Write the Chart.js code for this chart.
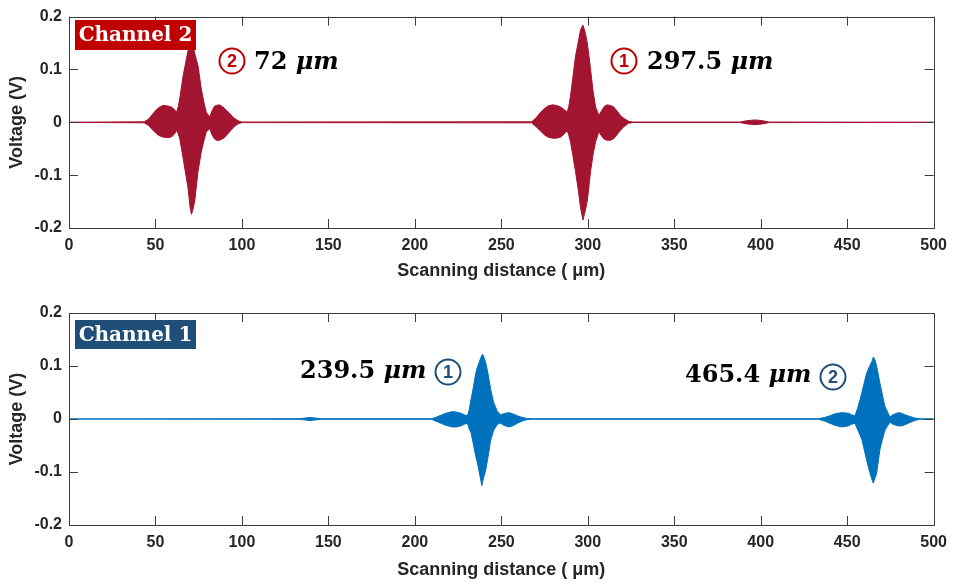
<!DOCTYPE html>
<html><head><meta charset="utf-8">
<script src="https://cdn.jsdelivr.net/npm/chart.js@4/dist/chart.umd.min.js"></script>
<style>
html,body{margin:0;padding:0;background:#fff;}
#wrap{position:relative;width:955px;height:584px;}
canvas{position:absolute;left:0;}
</style>
</head><body>
<div id="wrap">
<canvas id="c2" width="955" height="292" style="top:0px"></canvas>
<canvas id="c1" width="955" height="292" style="top:292px"></canvas>
</div>
<script>
// ---- data ----
const xTicks = [0, 50, 100, 150, 200, 250, 300, 350, 400, 450, 500];
const yTicks = [-0.2, -0.1, 0, 0.1, 0.2];

// Channel 2 (top, red): envelope of the interference signal
const ch2X = [0, 43.5, 46, 48, 50, 52, 54.4, 57, 59.2, 61, 62.2, 63.2, 64, 66, 68.8, 70, 70.8, 71.7, 72.7, 74.6, 76.5, 78, 79.4, 81.4, 82.5, 84, 85.2, 87, 89, 91, 92.9, 95, 97.7, 100,
  267.5, 270, 272.5, 275, 277, 279.5, 282, 284.3, 286.3, 288.1, 289, 290, 291.5, 292.9, 294.5, 295.8, 297.2, 298.5, 299.7, 300.7, 301.6, 303, 304.5, 306.4, 308, 309.5, 311.2, 313, 315, 317, 318.9, 321, 323.5, 326,
  388, 392, 396.8, 401, 405, 500];
const ch2Upper = [0, 0.001, 0.006, 0.014, 0.022, 0.028, 0.032, 0.031, 0.029, 0.024, 0.019, 0.030, 0.044, 0.088, 0.135, 0.148, 0.150, 0.145, 0.130, 0.107, 0.063, 0.038, 0.019, 0.010, 0.020, 0.030, 0.032, 0.033, 0.029, 0.023, 0.017, 0.009, 0.003, 0.0005,
  0.001, 0.008, 0.018, 0.026, 0.031, 0.033, 0.032, 0.029, 0.024, 0.019, 0.030, 0.050, 0.088, 0.125, 0.152, 0.175, 0.184, 0.170, 0.150, 0.125, 0.100, 0.060, 0.029, 0.013, 0.022, 0.030, 0.033, 0.032, 0.029, 0.021, 0.013, 0.007, 0.002, 0.0005,
  0.0005, 0.003, 0.0045, 0.003, 0.0005, 0];
const ch2Lower = [0, -0.001, -0.006, -0.013, -0.020, -0.025, -0.028, -0.029, -0.028, -0.022, -0.015, -0.022, -0.030, -0.068, -0.124, -0.160, -0.174, -0.165, -0.149, -0.093, -0.056, -0.035, -0.018, -0.012, -0.022, -0.031, -0.034, -0.034, -0.031, -0.025, -0.018, -0.010, -0.003, -0.0005,
  -0.001, -0.008, -0.016, -0.024, -0.028, -0.030, -0.030, -0.028, -0.022, -0.016, -0.024, -0.037, -0.065, -0.093, -0.128, -0.161, -0.185, -0.168, -0.149, -0.120, -0.093, -0.062, -0.037, -0.018, -0.026, -0.032, -0.034, -0.034, -0.031, -0.023, -0.015, -0.008, -0.002, -0.0005,
  -0.0005, -0.003, -0.0045, -0.003, -0.0005, 0];

// Channel 1 (bottom, blue)
const ch1X = [0, 133, 137, 139.5, 142, 146,
  209.5, 212, 215, 218, 221.8, 224, 226.6, 228.5, 230.4, 231.5, 232.4, 233.3, 235.2, 236.2, 238.1, 238.7, 239.2, 240, 241, 242.5, 243.9, 245.5, 247.7, 249.6, 251.5, 254.4, 256.5, 259.3, 262, 265, 268,
  433.3, 437, 440, 443, 446.8, 450.7, 452.5, 454.5, 456, 457.4, 458.5, 460, 461.2, 463, 464.5, 465.1, 466, 467, 468.9, 470.4, 471.8, 474.7, 476.5, 479.5, 481.4, 483.3, 486, 489, 492, 500];
const ch1Upper = [0, 0.0005, 0.002, 0.003, 0.002, 0.0005,
  0.0005, 0.003, 0.007, 0.011, 0.014, 0.013, 0.011, 0.008, 0.006, 0.018, 0.036, 0.050, 0.086, 0.098, 0.115, 0.120, 0.122, 0.116, 0.106, 0.082, 0.055, 0.032, 0.014, 0.008, 0.010, 0.012, 0.010, 0.006, 0.003, 0.001, 0.0005,
  0.0005, 0.003, 0.006, 0.010, 0.012, 0.011, 0.008, 0.006, 0.020, 0.036, 0.050, 0.070, 0.086, 0.100, 0.110, 0.117, 0.112, 0.100, 0.068, 0.045, 0.024, 0.004, 0.008, 0.012, 0.011, 0.008, 0.005, 0.002, 0.0005, 0];
const ch1Lower = [0, -0.0005, -0.002, -0.003, -0.002, -0.0005,
  -0.0005, -0.004, -0.008, -0.012, -0.015, -0.015, -0.013, -0.010, -0.008, -0.020, -0.025, -0.039, -0.070, -0.083, -0.115, -0.126, -0.118, -0.108, -0.096, -0.068, -0.039, -0.022, -0.010, -0.008, -0.012, -0.015, -0.013, -0.008, -0.004, -0.001, -0.0005,
  -0.0005, -0.004, -0.008, -0.012, -0.015, -0.013, -0.010, -0.008, -0.020, -0.030, -0.039, -0.060, -0.077, -0.100, -0.116, -0.121, -0.112, -0.103, -0.058, -0.038, -0.021, -0.006, -0.010, -0.013, -0.013, -0.011, -0.007, -0.003, -0.0005, 0];

// ---- drawing ----
const AX = '#262626';
function pts(xs, ys) { return xs.map((x, i) => ({ x: x, y: ys[i] })); }

function drawPeakLabel(ctx, numText, x, baseline, circle, circleColor) {
  ctx.save();
  const numFont = 'bold 24px "DejaVu Serif"';
  const unitFont = 'italic bold 24px "DejaVu Serif"';
  ctx.textBaseline = 'alphabetic';
  ctx.textAlign = 'left';
  ctx.font = numFont;
  const w1 = ctx.measureText(numText + ' ').width;
  ctx.fillStyle = '#000';
  ctx.fillText(numText + ' ', x, baseline);
  ctx.font = unitFont; ctx.fillText('μm', x + w1, baseline);
  // circled index
  ctx.strokeStyle = circleColor; ctx.lineWidth = 2;
  ctx.beginPath(); ctx.arc(circle.x, circle.y, 12.5, 0, Math.PI * 2); ctx.stroke();
  ctx.fillStyle = circleColor; ctx.font = 'bold 18px "Liberation Sans"';
  ctx.textAlign = 'center'; ctx.textBaseline = 'middle';
  ctx.fillText(circle.t, circle.x, circle.y + 1);
  ctx.restore();
}

function makeChart(id, xs, up, lo, color, cfg) {
  const framePlugin = {
    id: 'frame' + id,
    afterDraw(chart) {
      const { ctx, chartArea: a, scales: { x, y } } = chart;
      ctx.save();
      ctx.strokeStyle = '#3c3c3c'; ctx.lineWidth = 1;
      ctx.beginPath();
      for (const v of xTicks) {
        const px = Math.round(x.getPixelForValue(v)) + 0.5;
        ctx.moveTo(px, a.bottom); ctx.lineTo(px, a.bottom - 9);
        ctx.moveTo(px, a.top); ctx.lineTo(px, a.top + 9);
      }
      for (const v of yTicks) {
        const py = Math.round(y.getPixelForValue(v)) + 0.5;
        ctx.moveTo(a.left, py); ctx.lineTo(a.left + 9, py);
        ctx.moveTo(a.right, py); ctx.lineTo(a.right - 9, py);
      }
      ctx.stroke();
      ctx.strokeRect(Math.round(a.left) + 0.5, Math.round(a.top) + 0.5, Math.round(a.right - a.left), Math.round(a.bottom - a.top));
      // channel box
      ctx.fillStyle = cfg.boxColor;
      ctx.fillRect(cfg.box.x, cfg.box.y, cfg.box.w, cfg.box.h);
      ctx.fillStyle = '#fff';
      ctx.font = 'bold 20px "DejaVu Serif"';
      ctx.textAlign = 'center'; ctx.textBaseline = 'middle';
      ctx.fillText(cfg.boxText, cfg.box.x + cfg.box.w / 2, cfg.box.y + cfg.box.h / 2 + 1);
      ctx.restore();
      for (const p of cfg.peaks) drawPeakLabel(ctx, p.text, p.x, p.base, p.circle, cfg.circleColor);
    }
  };
  return new Chart(document.getElementById(id), {
    type: 'line',
    data: {
      datasets: [
        { data: pts(xs, up), borderColor: color, backgroundColor: color, borderWidth: 1, fill: '+1', pointRadius: 0, tension: 0 },
        { data: pts(xs, lo), borderColor: color, backgroundColor: color, borderWidth: 1, fill: false, pointRadius: 0, tension: 0 }
      ]
    },
    options: {
      responsive: false, animation: false, events: [],
      layout: { padding: { left: 0, right: 19, top: cfg.padTop, bottom: 0 } },
      plugins: { legend: { display: false }, tooltip: { enabled: false } },
      scales: {
        x: {
          type: 'linear', min: 0, max: 500,
          afterBuildTicks: s => { s.ticks = xTicks.map(v => ({ value: v })); },
          afterFit: s => { s.height = cfg.xHeight; },
          grid: { display: false, drawTicks: false },
          border: { display: false },
          ticks: { color: AX, font: { family: 'Liberation Sans', size: 16, weight: 'bold' }, padding: 8, maxRotation: 0 },
          title: { display: true, text: 'Scanning distance ( μm)', color: AX, font: { family: 'Liberation Sans', size: 18, weight: 'bold' }, padding: { top: 0, bottom: cfg.titlePad } }
        },
        y: {
          type: 'linear', min: -0.2, max: 0.2,
          afterBuildTicks: s => { s.ticks = yTicks.map(v => ({ value: v })); },
          afterFit: s => { s.width = 69; },
          grid: { display: false, drawTicks: false },
          border: { display: false },
          ticks: { color: AX, font: { family: 'Liberation Sans', size: 16, weight: 'bold' }, padding: 7,
            callback: v => String(Number(v.toFixed(1))) },
          title: { display: true, text: 'Voltage (V)', color: AX, font: { family: 'Liberation Sans', size: 18, weight: 'bold' }, padding: { top: 6, bottom: 0 } }
        }
      }
    },
    plugins: [framePlugin]
  });
}

makeChart('c2', ch2X, ch2Upper, ch2Lower, '#A2142F', {
  padTop: 14, xHeight: 64, titlePad: 10,
  boxColor: '#C00000', boxText: 'Channel 2', box: { x: 75, y: 20, w: 121, h: 30 },
  circleColor: '#C00000',
  peaks: [
    { text: '72', x: 254, base: 69, circle: { x: 232, y: 61, t: '2' } },
    { text: '297.5', x: 647, base: 69, circle: { x: 624, y: 61, t: '1' } }
  ]
});
makeChart('c1', ch1X, ch1Upper, ch1Lower, '#0072BD', {
  padTop: 21, xHeight: 59, titlePad: 3,
  boxColor: '#1F4E79', boxText: 'Channel 1', box: { x: 75, y: 28, w: 121, h: 29 },
  circleColor: '#1F4E79',
  peaks: [
    { text: '239.5', x: 300, base: 86, circle: { x: 448, y: 80, t: '1' } },
    { text: '465.4', x: 685, base: 90, circle: { x: 833, y: 85, t: '2' } }
  ]
});
</script>
</body></html>
